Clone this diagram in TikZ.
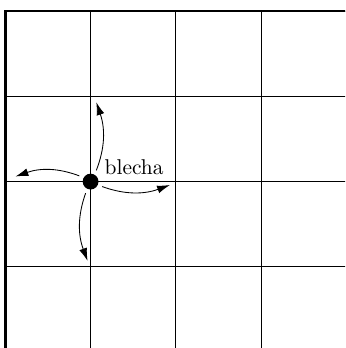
\documentclass[tikz,border=0pt]{standalone}
\usetikzlibrary{arrows.meta}
\tikzset{cell/.style={draw=black,thin,step=1.4cm},
  wall/.style={draw=black,very thick},
  hop/.style={-{Latex[length=2.1mm,width=1.3mm]},draw=black,bend right=20,shorten <=2pt},
  flea/.style={circle,fill=black,inner sep=0pt,minimum size=2.6mm}}
\begin{document}
\begin{tikzpicture}[x=1.4cm,y=1.4cm]
\useasboundingbox (-0.062,0.049) rectangle (3.983,4.129);
\clip (-0.062,0.049) rectangle (3.983,4.129);
% board
\draw[cell] (0,0) grid (4,4);
\draw[wall] (0,0) -- (0,4) -- (4.2,4);
% the flea and where it may jump
\node[flea] (blecha) at (1,2) {};
\node[anchor=base west,inner sep=0pt] (name) at (1.16,2.087) {blecha};
\coordinate (up) at (1.067,2.93);
\coordinate (left) at (0.12,2.06);
\coordinate (right) at (1.93,1.96);
\coordinate (down) at (0.965,1.07);
\draw[hop] (blecha.60) to (up);
\draw[hop] (blecha.150) to (left);
\draw[hop] (blecha.-25) to (right);
\draw[hop] (blecha.-115) to (down);
\end{tikzpicture}
\end{document}
